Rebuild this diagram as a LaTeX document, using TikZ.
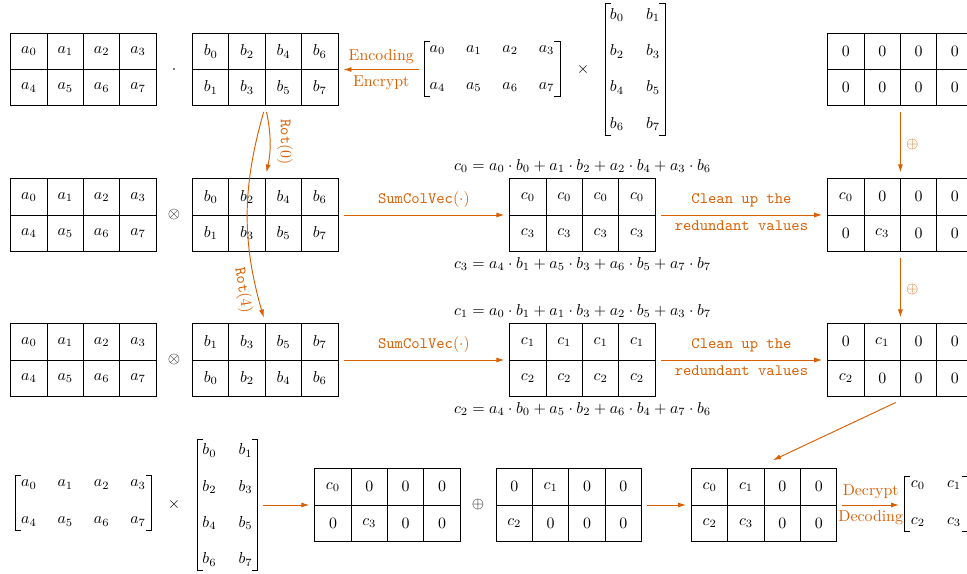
\documentclass[tikz,border=0pt]{standalone}
\usepackage{amsmath}
\usetikzlibrary{matrix,arrows.meta,calc}
\definecolor{myor}{RGB}{217,95,2}
\tikzset{
  cellgrid/.style={matrix of math nodes, inner sep=0pt, outer sep=0pt,
    column sep=-0.6pt, row sep=-0.6pt,
    nodes={draw, line width=0.6pt, minimum width=22.9pt, minimum height=22.9pt, inner sep=0pt, anchor=center}},
  bmat/.style={matrix of math nodes, inner sep=0pt, outer sep=0pt, nodes={inner sep=0pt, anchor=center}},
  bmatA/.style={bmat, column sep=5.9pt, row sep=11.7pt, nodes={minimum width=17pt, minimum height=11.5pt}},
  bmatB/.style={bmat, column sep=7.8pt, row sep=8.9pt, nodes={minimum width=15pt, minimum height=14pt}},
  bmatC/.style={bmat, column sep=5.1pt, row sep=11.7pt, nodes={minimum width=17.6pt, minimum height=11.5pt}},
  brk/.style={line width=0.5pt},
  arr/.style={draw=myor, line width=0.6pt, -{Latex[length=5pt,width=3.2pt]}, shorten <=3.2pt, shorten >=3.2pt},
  varr/.style={arr, shorten <=3.7pt, shorten >=3.7pt},
  lbl/.style={text=myor},
}
\newcommand\mybrackets[1]{%
  \draw[brk] ([xshift=3.5pt]#1.north west) -- (#1.north west) -- (#1.south west) -- ([xshift=3.5pt]#1.south west);
  \draw[brk] ([xshift=-3.5pt]#1.north east) -- (#1.north east) -- (#1.south east) -- ([xshift=-3.5pt]#1.south east);}
\begin{document}
\begin{tikzpicture}[x=0.63pt, y=-0.63pt]
\useasboundingbox (0,0) rectangle (967,574);
% row 1
\matrix (A1) [cellgrid] at (83.5,69.5) {a_0 & a_1 & a_2 & a_3\\ a_4 & a_5 & a_6 & a_7\\};
\node (dot1) at (174,69.5) {$\cdot$};
\matrix (B1) [cellgrid] at (265.3,69.5) {b_0 & b_2 & b_4 & b_6\\ b_1 & b_3 & b_5 & b_7\\};
\matrix (MA1) [bmatA] at (492,68.5) {a_0 & a_1 & a_2 & a_3\\ a_4 & a_5 & a_6 & a_7\\};
\mybrackets{MA1}
\node (x1) at (583,70) {$\times$};
\matrix (MB1) [bmatB] at (635,69.5) {b_0 & b_1\\ b_2 & b_3\\ b_4 & b_5\\ b_6 & b_7\\};
\mybrackets{MB1}
\matrix (Z1) [cellgrid] at (900.4,69.5) {0 & 0 & 0 & 0\\ 0 & 0 & 0 & 0\\};
% row 2
\matrix (A2) [cellgrid] at (83.5,215) {a_0 & a_1 & a_2 & a_3\\ a_4 & a_5 & a_6 & a_7\\};
\node (ot2) at (174,215) {$\otimes$};
\matrix (B2) [cellgrid] at (265.3,215) {b_0 & b_2 & b_4 & b_6\\ b_1 & b_3 & b_5 & b_7\\};
\matrix (C2) [cellgrid] at (582.5,215) {c_0 & c_0 & c_0 & c_0\\ c_3 & c_3 & c_3 & c_3\\};
\node[above] (e0) at (C2.north) {$c_0 = a_0\cdot b_0 + a_1\cdot b_2 + a_2\cdot b_4 + a_3\cdot b_6$};
\node[below] (e3) at (C2.south) {$c_3 = a_4\cdot b_1 + a_5\cdot b_3 + a_6\cdot b_5 + a_7\cdot b_7$};
\matrix (R2) [cellgrid] at (900.4,215) {c_0 & 0 & 0 & 0\\ 0 & c_3 & 0 & 0\\};
% row 3
\matrix (A3) [cellgrid] at (83.5,360) {a_0 & a_1 & a_2 & a_3\\ a_4 & a_5 & a_6 & a_7\\};
\node (ot3) at (174,360) {$\otimes$};
\matrix (B3) [cellgrid] at (265.3,360) {b_1 & b_3 & b_5 & b_7\\ b_0 & b_2 & b_4 & b_6\\};
\matrix (C3) [cellgrid] at (582.5,360) {c_1 & c_1 & c_1 & c_1\\ c_2 & c_2 & c_2 & c_2\\};
\node[above] (e1) at (C3.north) {$c_1 = a_0\cdot b_1 + a_1\cdot b_3 + a_2\cdot b_5 + a_3\cdot b_7$};
\node[below] (e2) at (C3.south) {$c_2 = a_4\cdot b_0 + a_5\cdot b_2 + a_6\cdot b_4 + a_7\cdot b_6$};
\matrix (R3) [cellgrid] at (900.4,360) {0 & c_1 & 0 & 0\\ c_2 & 0 & 0 & 0\\};
% row 4
\matrix (MA4) [bmatA] at (83.5,503) {a_0 & a_1 & a_2 & a_3\\ a_4 & a_5 & a_6 & a_7\\};
\mybrackets{MA4}
\node (x4) at (174,505) {$\times$};
\matrix (MB4) [bmatB] at (227.5,505) {b_0 & b_1\\ b_2 & b_3\\ b_4 & b_5\\ b_6 & b_7\\};
\mybrackets{MB4}
\matrix (D4) [cellgrid] at (387.5,505) {c_0 & 0 & 0 & 0\\ 0 & c_3 & 0 & 0\\};
\node (op4) at (478,505) {$\oplus$};
\matrix (E4) [cellgrid] at (568.8,505) {0 & c_1 & 0 & 0\\ c_2 & 0 & 0 & 0\\};
\matrix (F4) [cellgrid] at (764.2,505) {c_0 & c_1 & 0 & 0\\ c_2 & c_3 & 0 & 0\\};
\matrix (MC4) [bmatC] at (936,503.5) {c_0 & c_1\\ c_2 & c_3\\};
\mybrackets{MC4}
% arrows
\draw[arr] (MA1.west |- B1.east) -- node[lbl, above] {Encoding} node[lbl, below] {Encrypt} (B1.east);
\draw[arr] (B2.east) -- node[lbl, above=1pt] {\texttt{SumColVec}$(\cdot)$} (C2.west);
\draw[arr] (C2.east) -- node[lbl, above=1.5pt] {\texttt{Clean up the}} node[lbl, below] {\texttt{redundant values}} (R2.west);
\draw[arr] (B3.east) -- node[lbl, above=1pt] {\texttt{SumColVec}$(\cdot)$} (C3.west);
\draw[arr] (C3.east) -- node[lbl, above=1.5pt] {\texttt{Clean up the}} node[lbl, below] {\texttt{redundant values}} (R3.west);
\draw[varr] (Z1.south) -- node[lbl, right, yshift=-1.5pt] {$\oplus$} (R2.north);
\draw[varr] (R2.south) -- node[lbl, right, yshift=-1.5pt] {$\oplus$} (R3.north);
\draw[arr, shorten <=0pt, shorten >=0pt] ($(R3.south)+(-4.7,5.7)$) -- ($(F4.north)+(8.8,-8)$);
\draw[varr] (B1.south) to[bend left=12] node[lbl, pos=0.5, rotate=-90, anchor=south, inner sep=4.3pt] {\texttt{Rot}$(0)$} (B2.north);
\draw[varr] (B1.south) to[bend right=16] node[lbl, pos=0.85, rotate=-81, anchor=north] {\texttt{Rot}$(4)$} (B3.north);
\draw[arr] (MB4.east) -- (D4.west);
\draw[arr] (E4.east) -- (F4.west);
\draw[arr] (F4.east) -- node[lbl, above] {Decrypt} node[lbl, below] {Decoding} (F4.east -| MC4.west);
\end{tikzpicture}
\end{document}
